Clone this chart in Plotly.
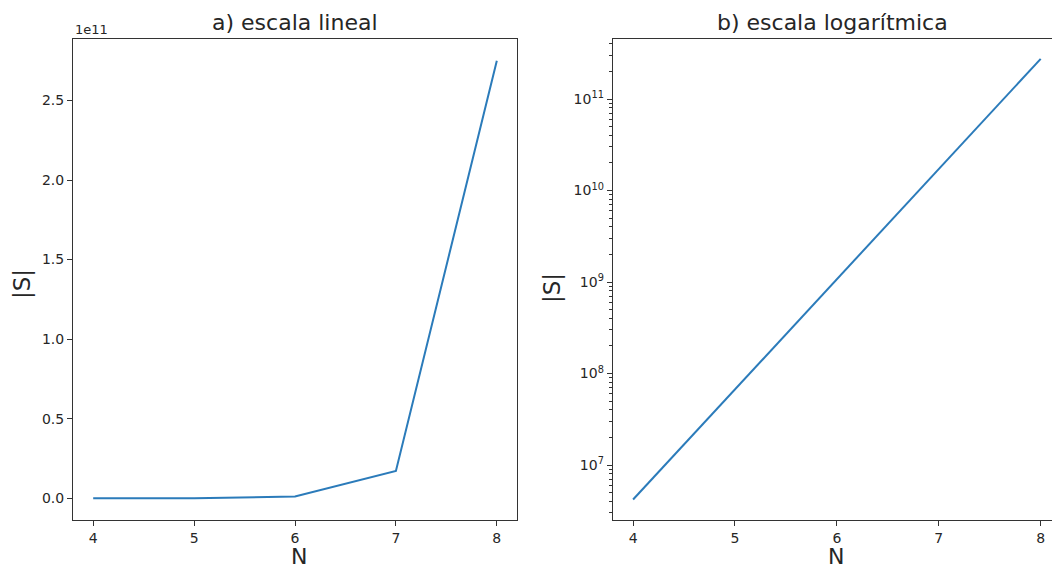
import plotly.graph_objects as go

N = [4, 5, 6, 7, 8]
S = [4194304, 67108864, 1073741824, 17179869184, 274877906944]

lin_tickvals = [0, 0.5e11, 1.0e11, 1.5e11, 2.0e11, 2.5e11]
lin_ticktext = ["0.0", "0.5", "1.0", "1.5", "2.0", "2.5"]
log_tickvals = [1e7, 1e8, 1e9, 1e10, 1e11]
log_ticktext = ["10<sup>7</sup>", "10<sup>8</sup>", "10<sup>9</sup>", "10<sup>10</sup>", "10<sup>11</sup>"]
x_ticks = [4, 5, 6, 7, 8]

W, H = 1052, 570
line_color = "#2b7bba"
txt = "#262626"
font = "DejaVu Sans"

fig = go.Figure()
fig.add_trace(go.Scatter(x=N, y=S, mode="lines", line=dict(color=line_color, width=2),
                         xaxis="x", yaxis="y", showlegend=False))
fig.add_trace(go.Scatter(x=N, y=S, mode="lines", line=dict(color=line_color, width=2),
                         xaxis="x2", yaxis="y2", showlegend=False))

axcommon = dict(showgrid=False, zeroline=False, showline=True, linecolor="#333333", linewidth=1,
                ticks="outside", ticklen=5, tickwidth=1, tickcolor="#333333",
                tickfont=dict(family=font, size=14, color=txt))

ydom = [1 - 520 / H, 1 - 39 / H]

fig.update_layout(
    width=W, height=H, margin=dict(l=0, r=0, t=0, b=0),
    paper_bgcolor="white", plot_bgcolor="white",
    xaxis=dict(domain=[73 / W, 517 / W], range=[3.8, 8.2], tickvals=x_ticks, mirror=True,
               anchor="y", **axcommon),
    yaxis=dict(domain=ydom, range=[-0.1365e11, 2.886e11], tickvals=lin_tickvals, ticktext=lin_ticktext,
               mirror=True, anchor="x", **axcommon),
    xaxis2=dict(domain=[612.7 / W, 1.0], range=[3.8, 8.111], tickvals=x_ticks, mirror=True,
                anchor="y2", **axcommon),
    yaxis2=dict(domain=ydom, type="log", range=[6.399, 11.656], tickvals=log_tickvals,
                ticktext=log_ticktext, mirror=False, anchor="x2",
                minor=dict(ticks="outside", ticklen=3, tickcolor="#333333", dtick="D1", showgrid=False),
                **axcommon),
)

def a(text, x, y, size, **kw):
    d = dict(text=text, x=x / W, y=1 - y / H, xref="paper", yref="paper", xanchor="center",
             yanchor="middle", showarrow=False, font=dict(family=font, size=size, color=txt))
    d.update(kw)
    return d

ann = [
    a("a) escala lineal", 295, 22, 22),
    a("b) escala logarítmica", 832, 22, 22),
    a("1e11", 73, 29, 13, xanchor="left"),
    a("N", 299, 556, 22),
    a("N", 836, 556, 22),
    a("|S|", 22, 284, 23, textangle=-90),
    a("|S|", 552, 288, 23, textangle=-90),
]
fig.update_layout(annotations=ann)

fig.write_html("out.html")
